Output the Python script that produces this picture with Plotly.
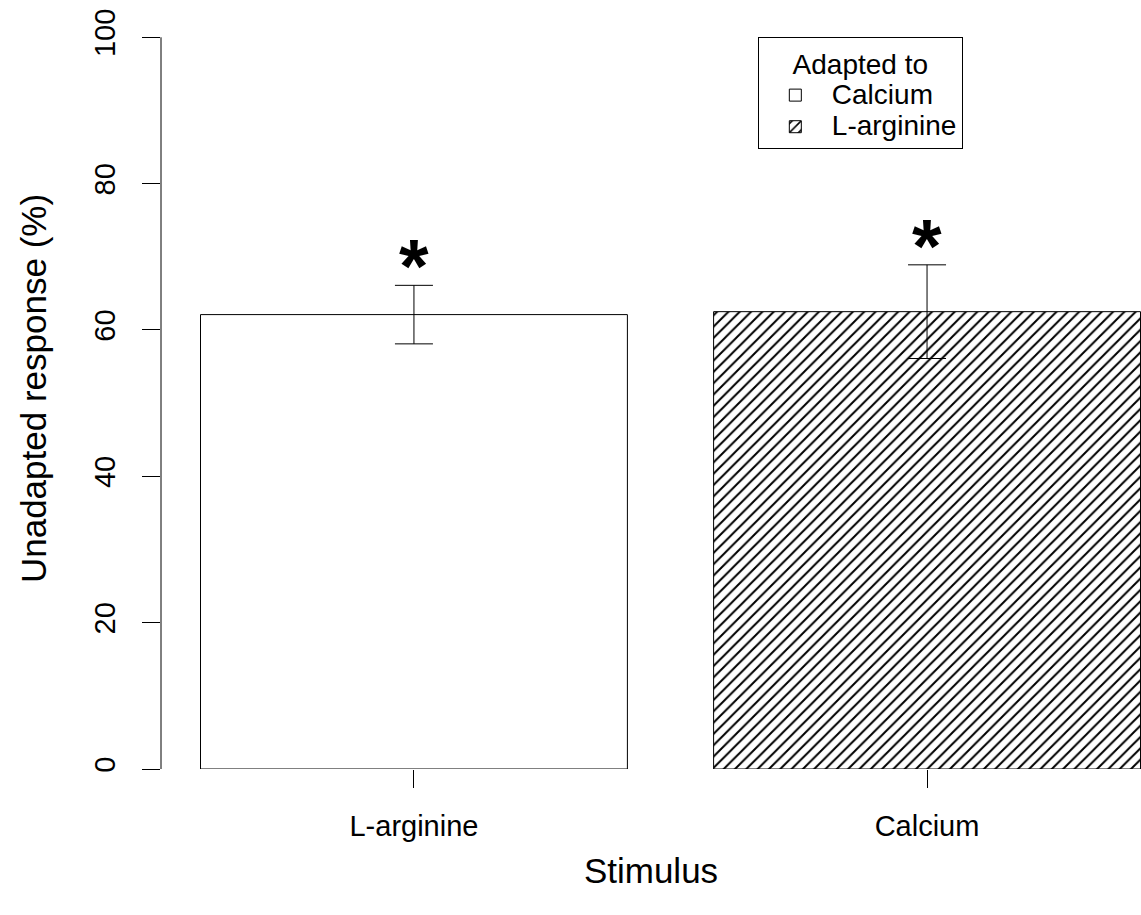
import plotly.graph_objects as go

# Bar data: stimulus on the x axis, adaptation condition as the legend group
stimuli = ["L-arginine", "Calcium"]
adapted_to = ["Calcium", "L-arginine"]
response_mean = [62.1, 62.5]
response_err = [4.0, 6.4]
hatch = ["", "/"]
y_ticks = [0, 20, 40, 60, 80, 100]

FONT = "Liberation Sans, Arial, Helvetica, sans-serif"
TEXT_SIZE = 29
LEGEND_TEXT_SIZE = 28

fig = go.Figure()
for stim, adapt, mean, err, shape in zip(stimuli, adapted_to, response_mean, response_err, hatch):
    fig.add_trace(go.Bar(
        x=[stim],
        y=[mean],
        name=f'<span style="font-size:{LEGEND_TEXT_SIZE}px">{adapt}</span>',
        width=0.832,
        marker=dict(
            color="white",
            line=dict(color="black", width=1),
            pattern=dict(shape=shape, fgcolor="black", bgcolor="white",
                         size=8, solidity=0.25, fillmode="replace"),
        ),
        error_y=dict(type="data", array=[err], color="black", thickness=1, width=19),
    ))

# significance markers above each error bar
for stim, mean, err in zip(stimuli, response_mean, response_err):
    fig.add_annotation(
        x=stim, y=mean + err + 3.8, text="<b>*</b>", showarrow=False,
        font=dict(family=FONT, size=76, color="black"),
        yanchor="middle", yshift=-8,
    )

# y axis line spanning only the tick range
fig.add_shape(type="line", xref="paper", x0=0, x1=0, yref="y",
              y0=y_ticks[0], y1=y_ticks[-1], line=dict(color="black", width=1))

fig.update_layout(
    width=1141, height=915,
    margin=dict(l=161, r=0, t=8, b=146),
    paper_bgcolor="white", plot_bgcolor="white",
    barmode="overlay",
    font=dict(family=FONT, size=TEXT_SIZE, color="black"),
    showlegend=True,
    legend=dict(
        title=dict(text="Adapted to", side="top center", font=dict(size=LEGEND_TEXT_SIZE)),
        x=0.609, y=0.962, xanchor="left", yanchor="top",
        bordercolor="black", borderwidth=1, bgcolor="white",
        font=dict(size=22), itemwidth=63, tracegroupgap=0,
    ),
    xaxis=dict(
        type="category", categoryorder="array", categoryarray=stimuli,
        range=[-0.493, 1.417],
        showline=False, showgrid=False, zeroline=False,
        ticks="outside", ticklen=18, tickwidth=1, tickcolor="black",
        tickfont=dict(size=TEXT_SIZE), ticklabelstandoff=13,
        title=dict(text="Stimulus", font=dict(size=35), standoff=17),
    ),
    yaxis=dict(
        range=[0, 104],
        tickvals=y_ticks,
        showline=False, showgrid=False, zeroline=False,
        ticks="outside", ticklen=18, tickwidth=1, tickcolor="black",
        tickangle=-90, tickfont=dict(size=TEXT_SIZE), ticklabelstandoff=15,
        title=dict(text="Unadapted response (%)", font=dict(size=35), standoff=32),
    ),
)

fig.write_html("out.html")
